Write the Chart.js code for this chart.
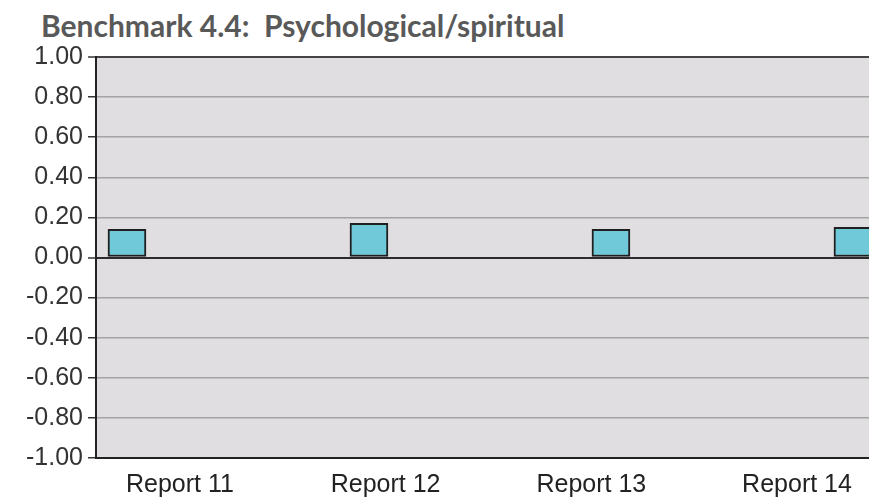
<!DOCTYPE html>
<html>
<head>
<meta charset="utf-8">
<script src="https://cdn.jsdelivr.net/npm/chart.js@4.4.1/dist/chart.umd.min.js"></script>
<style>
    html, body { margin: 0; padding: 0; background: #ffffff; }
    #wrap { position: relative; width: 869px; height: 497px; overflow: hidden; }
    #title {
        position: absolute; left: 41px; top: 7px;
        font-family: Lato, 'Open Sans', sans-serif; font-weight: bold;
        font-size: 30px; color: #595959; white-space: pre;
    }
    #barChart { position: absolute; left: 0; top: 0; }
</style>
</head>
<body>
<div id="wrap">
    <div id="title">Benchmark 4.4:  Psychological/spiritual</div>
    <canvas id="barChart" width="1100" height="497"></canvas>
</div>
<script>
// --- Data ---
const reports = ['Report 11', 'Report 12', 'Report 13', 'Report 14'];
const scores = [0.14, 0.17, 0.14, 0.15];
const yTicks = { min: -1, max: 1, step: 0.2 };

// Theming Colors
const colors = {
    plotBg: '#e0dee0',
    bar: '#70c9d9',
    barEdge: '#1f1f1f',
    grid: '#a3a3a3',
    axis: '#222222',
    text: '#333333'
};

const tickFont = { family: "'Liberation Sans', Arial, sans-serif", size: 25 };

// fill the plot area grey like the original
const plotBackground = {
    id: 'plotBackground',
    beforeDraw(chart) {
        const a = chart.chartArea;
        const ctx = chart.ctx;
        ctx.save();
        ctx.fillStyle = colors.plotBg;
        ctx.fillRect(a.left, a.top, a.right - a.left, a.bottom - a.top);
        ctx.restore();
    }
};

const ctx = document.getElementById('barChart').getContext('2d');
new Chart(ctx, {
    type: 'bar',
    data: {
        datasets: [{
            data: scores.map((v, i) => ({ x: i, y: v })),
            backgroundColor: colors.bar,
            borderColor: colors.barEdge,
            borderWidth: 2,
            borderSkipped: false,
            barThickness: 38,
            xAxisID: 'x',
            yAxisID: 'y'
        }]
    },
    options: {
        responsive: false,
        animation: false,
        devicePixelRatio: 1,
        layout: { padding: { top: 57, left: 0, right: 0, bottom: 0 } },
        plugins: {
            legend: { display: false },
            tooltip: { enabled: false }
        },
        scales: {
            // axis that places the bars (hidden)
            x: {
                type: 'linear',
                display: false,
                offset: false,
                min: -0.128,
                max: 4.021
            },
            // axis that carries the report names
            xNames: {
                type: 'linear',
                position: 'bottom',
                offset: false,
                min: -0.408,
                max: 4.473,
                afterBuildTicks: (scale) => {
                    scale.ticks = reports.map((r, i) => ({ value: i }));
                },
                afterFit: (scale) => { scale.height = 39; },
                grid: { display: false },
                border: { display: true, color: colors.axis, width: 2 },
                ticks: {
                    callback: (v) => reports[v],
                    font: tickFont,
                    color: '#222222',
                    padding: 4,
                    maxRotation: 0,
                    autoSkip: false
                }
            },
            y: {
                min: yTicks.min,
                max: yTicks.max,
                afterFit: (scale) => { scale.width = 96; },
                border: { display: true, color: colors.axis, width: 2 },
                grid: {
                    color: (c) => {
                        const v = c.tick ? c.tick.value : 0;
                        if (Math.abs(v) < 1e-6) return '#2b2b2b';
                        if (Math.abs(v - 1) < 1e-6) return '#444444';
                        return colors.grid;
                    },
                    lineWidth: (c) => {
                        const v = c.tick ? c.tick.value : 0;
                        if (Math.abs(v) < 1e-6 || Math.abs(v - 1) < 1e-6) return 2;
                        return 1.5;
                    },
                    tickColor: colors.text,
                    tickLength: 8,
                    tickWidth: 1.5
                },
                ticks: {
                    stepSize: yTicks.step,
                    callback: (v) => v.toFixed(2),
                    font: tickFont,
                    color: colors.text,
                    padding: 5
                }
            }
        }
    },
    plugins: [plotBackground]
});
</script>
</body>
</html>
